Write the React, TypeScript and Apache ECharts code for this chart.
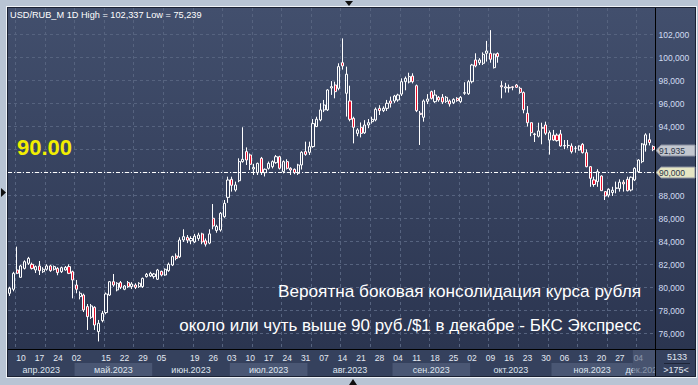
import React, { useEffect, useRef } from 'react';
import * as echarts from 'echarts';

// ---------- DATA ----------
const tradingDays: [string, number[]][] = [
  ['2023-04', [5, 6, 7, 10, 11, 12, 13, 14, 17, 18, 19, 20, 21, 24, 25, 26, 27, 28]],
  ['2023-05', [2, 3, 4, 5, 8, 10, 11, 12, 15, 16, 17, 18, 19, 22, 23, 24, 25, 26, 29, 30, 31]],
  ['2023-06', [1, 2, 5, 6, 7, 8, 9, 13, 14, 15, 16, 19, 20, 21, 22, 23, 26, 27, 28, 29, 30]],
  ['2023-07', [3, 4, 5, 6, 7, 10, 11, 12, 13, 14, 17, 18, 19, 20, 21, 24, 25, 26, 27, 28, 31]],
  ['2023-08', [1, 2, 3, 4, 7, 8, 9, 10, 11, 14, 15, 16, 17, 18, 21, 22, 23, 24, 25, 28, 29, 30, 31]],
  ['2023-09', [1, 4, 5, 6, 7, 8, 11, 12, 13, 14, 15, 18, 19, 20, 21, 22, 25, 26, 27, 28, 29]],
  ['2023-10', [2, 3, 4, 5, 6, 9, 10, 11, 12, 13, 16, 17, 18, 19, 20, 23, 24, 25, 26, 27, 30, 31]],
  ['2023-11', [1, 2, 3, 6, 7, 8, 9, 10, 13, 14, 15, 16, 17, 20, 21, 22, 23, 24, 27, 28, 29, 30]],
  ['2023-12', [1, 4, 5, 6, 7, 8]],
];
const categories: string[] = tradingDays.flatMap(([m, ds]) =>
  ds.map((d) => `${m}-${d < 10 ? '0' + d : d}`)
);

const dayTickDates = [
  '2023-04-10', '2023-04-17', '2023-04-24', '2023-05-02', '2023-05-15', '2023-05-22', '2023-05-29',
  '2023-06-05', '2023-06-19', '2023-06-26', '2023-07-03', '2023-07-10', '2023-07-17', '2023-07-24',
  '2023-07-31', '2023-08-07', '2023-08-14', '2023-08-21', '2023-08-28', '2023-09-04', '2023-09-11',
  '2023-09-18', '2023-09-25', '2023-10-02', '2023-10-09', '2023-10-16', '2023-10-23', '2023-10-30',
  '2023-11-06', '2023-11-13', '2023-11-20', '2023-11-27', '2023-12-04',
];
const monthLabels = ['апр.2023', 'май.2023', 'июн.2023', 'июл.2023', 'авг.2023', 'сен.2023', 'окт.2023', 'ноя.2023', 'дек.2023'];

const opens = [
  79.43, 79.78, 81.46, 80.82, 81.60, 82.04, 81.95, 81.46, 81.81, 81.31,
  81.52, 81.81, 81.52, 81.60, 81.31, 81.46, 81.75, 81.31, 80.15, 79.14,
  79.28, 78.27, 77.34, 78.21, 76.09, 77.05, 77.75, 79.28, 80.44, 79.72,
  80.36, 79.78, 80.36, 80.01, 80.15, 80.01, 80.01, 80.88, 80.94, 80.88,
  80.65, 81.34, 81.02, 81.40, 81.89, 82.68, 82.60, 84.07, 84.30, 84.00,
  83.90, 84.20, 84.60, 84.00, 83.80, 85.96, 84.90, 84.94, 86.10, 87.78,
  89.35, 88.42, 89.23, 90.89, 91.76, 91.47, 90.25, 89.93, 91.18, 89.93,
  90.31, 90.45, 90.80, 91.32, 90.02, 90.89, 90.31, 90.22, 89.87, 90.60,
  91.76, 91.70, 92.20, 93.94, 94.52, 95.39, 95.39, 97.30, 97.56, 97.27,
  99.50, 96.84, 96.17, 94.66, 93.35, 93.88, 93.40, 94.08, 94.37, 94.52,
  95.53, 95.33, 95.53, 96.17, 96.17, 96.26, 96.77, 97.85, 97.82, 98.34,
  97.50, 95.10, 94.75, 96.14, 96.98, 96.11, 96.49, 96.49, 96.14, 96.17,
  96.02, 96.40, 96.11, 96.84, 96.80, 97.85, 99.74, 99.50, 99.45, 100.32,
  100.32, 99.07, 100.30, 97.50, 97.30, 97.35, 97.40, 97.56, 97.27, 96.90,
  95.10, 94.28, 93.30, 93.10, 93.85, 94.08, 92.77, 93.20, 93.20, 93.30,
  92.25, 92.30, 92.25, 92.05, 91.90, 92.40, 91.67, 90.45, 89.30, 89.15,
  89.64, 88.28, 87.98, 88.20, 88.57, 88.54, 89.10, 89.35, 88.42, 89.30,
  90.02, 90.89, 92.34, 92.80, 92.20,
];
const highs = [
  80.00, 81.30, 83.49, 81.90, 82.30, 82.60, 82.10, 81.85, 82.24, 81.70,
  81.95, 81.90, 81.85, 81.70, 81.75, 81.80, 81.95, 81.40, 80.59, 79.60,
  79.40, 78.50, 78.50, 78.30, 77.11, 77.90, 79.50, 80.50, 81.11, 80.40,
  80.50, 80.15, 80.50, 80.40, 80.30, 80.40, 80.80, 81.20, 81.30, 81.20,
  81.55, 81.40, 81.60, 82.10, 82.70, 82.90, 84.30, 85.00, 84.50, 84.40,
  84.60, 84.70, 84.70, 84.20, 85.00, 87.20, 85.40, 86.50, 87.55, 89.58,
  89.58, 89.15, 91.18, 93.88, 92.13, 91.60, 90.70, 90.80, 91.30, 90.30,
  90.90, 91.00, 91.47, 91.40, 91.00, 91.10, 90.40, 90.30, 90.70, 91.80,
  92.63, 92.63, 94.60, 94.80, 95.97, 96.26, 97.20, 97.90, 97.85, 99.45,
  101.62, 99.16, 97.50, 94.80, 93.80, 94.30, 94.50, 94.60, 94.80, 95.60,
  95.80, 95.70, 96.26, 96.55, 96.70, 96.80, 98.14, 98.30, 98.63, 98.58,
  97.60, 95.30, 96.30, 96.77, 97.07, 97.13, 96.60, 96.77, 96.60, 96.30,
  96.40, 96.50, 96.60, 97.80, 98.00, 99.40, 100.32, 99.90, 100.40, 101.40,
  102.337, 100.30, 100.40, 97.90, 97.75, 97.60, 97.45, 97.65, 97.42, 97.00,
  95.73, 94.30, 93.40, 94.28, 94.28, 94.37, 93.60, 93.65, 93.35, 93.65,
  92.77, 92.77, 92.48, 92.25, 92.30, 92.50, 91.96, 90.50, 89.58, 90.23,
  89.70, 88.30, 88.57, 88.70, 89.15, 89.35, 89.30, 89.58, 89.60, 90.40,
  91.10, 92.50, 93.36, 93.36, 92.30,
];
const lows = [
  79.20, 79.60, 81.10, 80.80, 81.50, 81.90, 81.50, 81.20, 81.02, 81.20,
  81.40, 81.30, 81.40, 81.00, 81.20, 81.40, 81.10, 78.99, 79.43, 78.90,
  77.80, 76.24, 77.20, 76.24, 75.239, 76.90, 77.60, 79.20, 80.00, 79.60,
  79.80, 79.70, 79.90, 79.80, 79.80, 79.90, 79.90, 80.80, 80.85, 80.70,
  80.60, 80.90, 80.95, 81.30, 81.80, 82.30, 82.50, 83.90, 83.80, 83.70,
  83.80, 84.00, 83.70, 83.50, 83.70, 85.00, 84.70, 84.80, 86.00, 87.30,
  88.28, 88.28, 89.10, 90.80, 90.60, 90.16, 89.73, 89.73, 89.73, 89.60,
  90.20, 90.30, 90.70, 90.20, 89.87, 90.20, 89.73, 89.80, 89.73, 90.20,
  91.40, 91.47, 92.10, 93.90, 94.40, 95.20, 95.30, 96.70, 96.40, 97.10,
  98.90, 94.81, 94.40, 92.48, 93.10, 93.00, 93.30, 93.80, 94.20, 94.40,
  94.95, 95.20, 95.30, 95.60, 96.00, 96.10, 96.60, 97.10, 97.70, 97.70,
  95.20, 92.34, 94.37, 95.90, 96.30, 96.00, 96.10, 95.90, 96.00, 95.68,
  95.90, 96.10, 96.00, 96.70, 96.70, 97.70, 99.10, 99.30, 99.30, 99.60,
  99.50, 99.00, 99.50, 96.40, 96.90, 96.90, 97.10, 97.30, 96.80, 95.10,
  93.94, 93.10, 92.60, 93.00, 92.40, 93.20, 91.50, 92.70, 92.63, 92.20,
  91.97, 92.05, 91.60, 91.67, 91.85, 91.60, 90.40, 88.70, 88.70, 88.70,
  88.36, 87.55, 87.78, 87.90, 88.13, 88.28, 88.28, 88.30, 88.30, 89.20,
  89.90, 90.75, 91.76, 92.30, 91.80,
];
const closes = [
  79.86, 81.17, 81.17, 81.81, 82.18, 82.47, 81.60, 81.75, 81.40, 81.52,
  81.81, 81.40, 81.75, 81.23, 81.66, 81.69, 81.17, 80.59, 79.78, 79.43,
  77.98, 77.40, 78.33, 76.67, 76.82, 77.69, 79.37, 80.44, 80.15, 80.30,
  79.95, 80.07, 80.01, 80.24, 79.95, 80.30, 80.73, 81.08, 81.17, 81.11,
  81.46, 81.02, 81.52, 81.95, 82.62, 82.47, 84.07, 84.36, 84.05, 84.20,
  84.40, 84.50, 83.90, 83.70, 84.60, 85.29, 85.25, 86.39, 87.26, 89.29,
  88.83, 88.86, 90.89, 91.09, 91.03, 90.66, 90.39, 90.74, 89.93, 90.22,
  90.74, 90.89, 91.32, 90.31, 90.89, 90.31, 90.16, 89.93, 90.60, 91.70,
  91.52, 92.19, 94.20, 94.58, 95.39, 95.82, 97.13, 97.42, 96.98, 99.16,
  99.22, 98.50, 94.57, 93.88, 93.65, 93.35, 94.08, 94.28, 94.57, 95.45,
  95.33, 95.53, 95.97, 95.97, 96.60, 96.69, 97.85, 98.14, 98.29, 97.85,
  95.33, 95.00, 96.17, 96.34, 96.40, 96.69, 96.26, 96.08, 96.49, 95.91,
  96.31, 96.20, 96.49, 96.90, 97.85, 99.30, 99.22, 99.74, 100.23, 100.52,
  99.80, 100.26, 100.03, 97.40, 97.40, 97.30, 97.35, 97.36, 96.92, 95.40,
  94.28, 93.41, 93.25, 93.56, 93.80, 93.36, 93.41, 92.77, 92.72, 92.25,
  92.30, 92.30, 91.76, 92.05, 92.25, 91.67, 90.45, 89.44, 88.90, 90.02,
  88.36, 87.90, 88.48, 88.40, 88.60, 89.10, 88.95, 88.36, 89.53, 90.31,
  91.03, 92.43, 93.22, 92.55, 91.935,
];

const yTicks = [76, 78, 80, 82, 84, 86, 88, 90, 92, 94, 96, 98, 100, 102];
const lastPrice = 91.935;
const levelPrice = 90;
const priceTags = [lastPrice, levelPrice];
const headerText = 'USD/RUB_M 1D High = 102,337 Low = 75,239';
const levelText = '90.00';
const barsTotal = '5133';
const barsVisible = '>175<';
const noteLines = [
  'Вероятна боковая консолидация курса рубля',
  'около или чуть выше 90 руб./$1 в декабре - БКС Экспресс',
];

// ---------- STYLE ----------
const FONT = '"Liberation Sans", Arial, Helvetica, sans-serif';
const Y_MIN = 74.581;
const Y_MAX = 104.263;
const GRID_COLOR = '#56637f';
const STRIP_BG = '#35415d';
const BAND_LIGHT = '#4a5774';

const dayTickSet = new Set(dayTickDates);
const monthSpans: number[][] = [];
{
  let idx = 0;
  tradingDays.forEach(([, ds], k) => {
    monthSpans.push([idx, idx + ds.length - 1, k]);
    idx += ds.length;
  });
}

const fmtPrice = (v: number) => v.toFixed(3).replace('.', ',');

function buildOption(): any {
  const candleData = opens.map((o, i) => [o, closes[i], lows[i], highs[i]]);
  return {
    animation: false,
    backgroundColor: '#b8c4d4',
    grid: { left: 8, right: 43, top: 8, bottom: 36, containLabel: false, outerBoundsMode: 'none' },
    xAxis: {
      type: 'category',
      data: categories,
      boundaryGap: true,
      axisLine: { show: false },
      axisTick: { show: false },
      axisLabel: {
        interval: (_i: number, v: string) => dayTickSet.has(v),
        formatter: (v: string) => v.slice(8),
        color: '#e4e9f2',
        fontSize: 8.5,
        fontFamily: FONT,
        margin: 4,
      },
      splitLine: {
        show: true,
        interval: (i: number) => i % 8 === 2,
        lineStyle: { color: GRID_COLOR, width: 1, type: [3, 3] },
      },
    },
    yAxis: {
      type: 'value',
      position: 'right',
      min: Y_MIN,
      max: Y_MAX,
      axisLine: { show: false },
      axisTick: { show: false },
      axisLabel: { show: false },
      splitLine: { show: false },
    },
    series: [
      {
        type: 'custom',
        name: 'hgrid',
        z: 1,
        silent: true,
        clip: false,
        data: yTicks.map((v) => [0, v]),
        renderItem: (params: any, api: any) => {
          const cs = params.coordSys;
          const v = api.value(1);
          const y = Math.round(api.coord([0, v])[1]) + 0.5;
          return {
            type: 'group',
            children: [
              {
                type: 'line',
                shape: { x1: cs.x, y1: y, x2: cs.x + cs.width, y2: y },
                style: { stroke: GRID_COLOR, lineWidth: 1, lineDash: [3, 3] },
              },
              {
                type: 'text',
                x: cs.x + cs.width + 3.5,
                y: y,
                style: {
                  text: `${v},000`,
                  fill: '#d2ddf2',
                  fontSize: 8.5,
                  fontFamily: FONT,
                  align: 'left',
                  verticalAlign: 'middle',
                  textAlign: 'left',
                  textVerticalAlign: 'middle',
                },
              },
            ],
          };
        },
      },
      {
        type: 'candlestick',
        z: 3,
        silent: true,
        data: candleData,
        barWidth: 2.6,
        large: false,
        progressive: 0,
        itemStyle: {
          color: 'rgba(0,0,0,0)',
          color0: '#e8112d',
          borderColor: '#ffffff',
          borderColor0: '#ffffff',
          borderWidth: 1,
        },
      },
      {
        type: 'custom',
        name: 'months',
        z: 4,
        silent: true,
        clip: false,
        encode: { x: [0, 1], y: 2 },
        data: monthSpans,
        renderItem: (params: any, api: any) => {
          const cs = params.coordSys;
          const s = api.value(0);
          const e = api.value(1);
          const k = api.value(2);
          const bw = api.size([1, 0])[0];
          const gridRight = cs.x + cs.width;
          const left = api.coord([s, Y_MIN])[0] - bw / 2;
          const rightRaw = api.coord([e, Y_MIN])[0] + bw / 2;
          const right = Math.min(rightRaw, gridRight);
          const top = cs.y + cs.height;
          const children: any[] = [];
          if (k % 2 === 1) {
            children.push({
              type: 'rect',
              shape: { x: left, y: top + 14, width: right - left, height: 13 },
              style: { fill: BAND_LIGHT },
            });
          }
          children.push({
            type: 'text',
            x: (left + rightRaw) / 2,
            y: top + 20.5,
            style: {
              text: monthLabels[k],
              fill: '#dfe5ef',
              fontSize: 9,
              fontFamily: FONT,
              align: 'center',
              verticalAlign: 'middle',
              textAlign: 'center',
              textVerticalAlign: 'middle',
            },
          });
          if (k === monthLabels.length - 1) {
            children.push({
              type: 'rect',
              shape: { x: left, y: top + 1, width: gridRight - left, height: 26 },
              style: { fill: 'rgba(82,96,122,0.62)' },
            });
          }
          return { type: 'group', children };
        },
      },
      {
        type: 'custom',
        name: 'tags',
        z: 6,
        silent: true,
        clip: false,
        data: priceTags.map((v, k) => [0, v, k]),
        renderItem: (params: any, api: any) => {
          const cs = params.coordSys;
          const v = api.value(1);
          const k = api.value(2);
          const y = Math.round(api.coord([0, v])[1]) + 0.5;
          const xr = cs.x + cs.width;
          const children: any[] = [];
          if (k === 1) {
            children.push({
              type: 'line',
              shape: { x1: cs.x, y1: y, x2: xr, y2: y },
              style: { stroke: '#ffffff', lineWidth: 1, lineDash: [4, 2, 1, 2] },
            });
          }
          children.push({
            type: 'polygon',
            shape: {
              points: [
                [xr + 1, y],
                [xr + 6, y - 5.5],
                [xr + 40, y - 5.5],
                [xr + 40, y + 5.5],
                [xr + 6, y + 5.5],
              ],
            },
            style: { fill: k === 1 ? '#e6e6c4' : '#c3c7cf', stroke: '#8a90a0', lineWidth: 1 },
          });
          children.push({
            type: 'text',
            x: xr + 4,
            y: y,
            style: {
              text: fmtPrice(v),
              fill: '#2a3448',
              fontSize: 8.5,
              fontFamily: FONT,
              align: 'left',
              verticalAlign: 'middle',
              textAlign: 'left',
              textVerticalAlign: 'middle',
            },
          });
          return { type: 'group', children };
        },
      },
    ],
    graphic: [
      { type: 'rect', z: -12, shape: { x: 6, y: 6, width: 691, height: 372 }, style: { fill: '#eef2f7' } },
      { type: 'rect', z: -11, shape: { x: 7, y: 7, width: 689, height: 370 }, style: { fill: '#1a2133' } },
      {
        type: 'rect',
        z: -10,
        shape: { x: 8, y: 8, width: 687, height: 341 },
        style: {
          fill: new echarts.graphic.LinearGradient(0, 0, 0, 1, [
            { offset: 0, color: '#424f6d' },
            { offset: 1, color: '#2b3550' },
          ]),
        },
      },
      { type: 'rect', z: -10, shape: { x: 8, y: 350, width: 687, height: 26 }, style: { fill: STRIP_BG } },
      { type: 'rect', z: 49, shape: { x: 656, y: 350, width: 39, height: 26 }, style: { fill: STRIP_BG } },
      { type: 'line', z: 50, shape: { x1: 8, y1: 349.5, x2: 695, y2: 349.5 }, style: { stroke: '#000000', lineWidth: 1 } },
      { type: 'line', z: 50, shape: { x1: 655.5, y1: 8, x2: 655.5, y2: 376 }, style: { stroke: '#000000', lineWidth: 1 } },
      { type: 'line', z: 51, shape: { x1: 664, y1: 363.5, x2: 690, y2: 363.5 }, style: { stroke: '#1e2538', lineWidth: 1 } },
      {
        type: 'text', z: 51, x: 677, y: 357,
        style: { text: barsTotal, fill: '#e2e8f2', fontSize: 9, fontFamily: FONT, textAlign: 'center', textVerticalAlign: 'middle', align: 'center', verticalAlign: 'middle' },
      },
      {
        type: 'text', z: 51, x: 676, y: 370,
        style: { text: barsVisible, fill: '#e2e8f2', fontSize: 9, fontFamily: FONT, textAlign: 'center', textVerticalAlign: 'middle', align: 'center', verticalAlign: 'middle' },
      },
      {
        type: 'text', z: 100, x: 10, y: 14.5,
        style: { text: headerText, fill: '#ffffff', fontSize: 9.2, fontFamily: FONT, textAlign: 'left', textVerticalAlign: 'middle', align: 'left', verticalAlign: 'middle' },
      },
      {
        type: 'text', z: 100, x: 17, y: 147,
        style: { text: levelText, fill: '#f2ee00', fontSize: 22, fontWeight: 'bold', fontFamily: FONT, textAlign: 'left', textVerticalAlign: 'middle', align: 'left', verticalAlign: 'middle' },
      },
      {
        type: 'text', z: 100, x: 641, y: 291,
        style: { text: noteLines[0], fill: '#ffffff', fontSize: 17.2, fontFamily: FONT, textAlign: 'right', textVerticalAlign: 'middle', align: 'right', verticalAlign: 'middle' },
      },
      {
        type: 'text', z: 100, x: 641, y: 325,
        style: { text: noteLines[1], fill: '#ffffff', fontSize: 17, fontFamily: FONT, textAlign: 'right', textVerticalAlign: 'middle', align: 'right', verticalAlign: 'middle' },
      },
      { type: 'polygon', z: 100, shape: { points: [[345, 1], [353, 1], [349, 6]] }, style: { fill: '#101010' } },
      { type: 'polygon', z: 100, shape: { points: [[349, 385], [357, 385], [353, 379]] }, style: { fill: '#101010' } },
      { type: 'polygon', z: 100, shape: { points: [[1, 188], [1, 197], [6, 192.5]] }, style: { fill: '#101010' } },
    ],
  };
}

export default function App() {
  const ref = useRef<HTMLDivElement>(null);
  useEffect(() => {
    if (!ref.current) return;
    const chart = echarts.init(ref.current, undefined, { renderer: 'svg', width: 698, height: 385 });
    chart.setOption(buildOption());
    return () => {
      chart.dispose();
    };
  }, []);
  return <div ref={ref} style={{ position: 'fixed', left: 0, top: 0, width: 698, height: 385 }} />;
}
